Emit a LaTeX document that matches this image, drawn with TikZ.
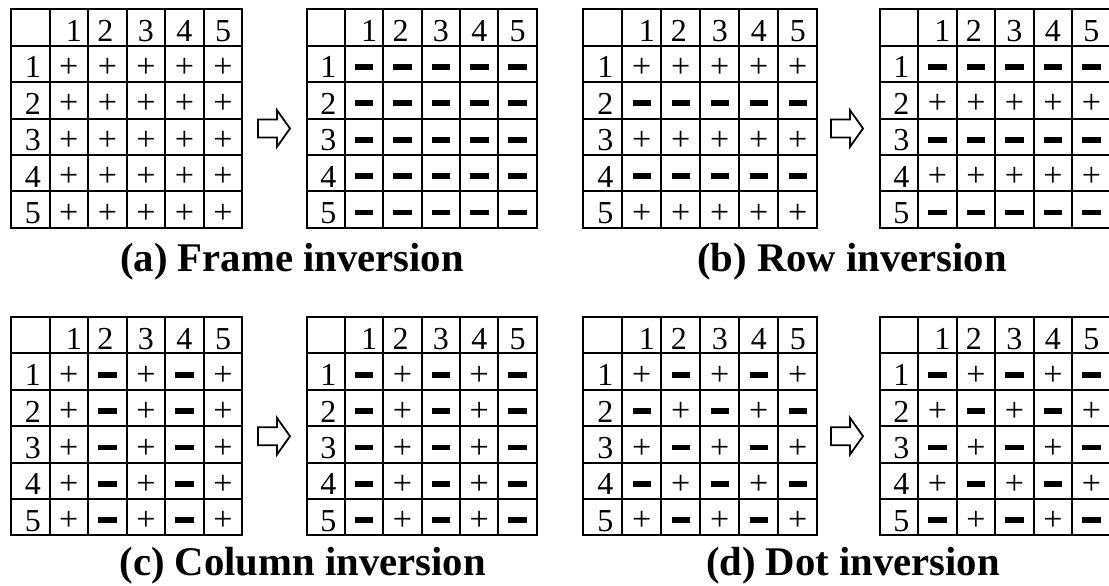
\documentclass[tikz,border=0pt]{standalone}
\usepackage{fontspec}
\setmainfont{Liberation Serif}

% row height of every table
\newcommand\cellH{36.4}

% \signtable{name}{left x}{top y}{column width}{rows of p/m codes}
\newcommand\signtable[5]{%
  \begin{scope}[shift={(#2,#3)}]
    \foreach \k in {1,...,5} {
      \draw[gridline] ({\k*#4},0) -- ({\k*#4},{6*\cellH});
      \draw[gridline] (0,{\k*\cellH}) -- ({6*#4},{\k*\cellH});
    }
    \draw[gridline] (0,0) rectangle ({6*#4},{6*\cellH});
    % column numbers
    \foreach \k/\dx in {1/5,2/-2,3/0,4/0,5/0}
      \node[celldigit] (#1-h\k) at ({(\k+0.5)*#4+\dx},{0.5*\cellH+3.5}) {\k};
    % row numbers and signs
    \foreach \row [count=\r] in {#5} {
      \node[celldigit] (#1-v\r) at ({0.5*#4+2.5},{(\r+0.5)*\cellH+3.5}) {\r};
      \foreach \s [count=\c] in \row {
        \if p\s
          \node[cellplus] (#1-\r-\c) at ({(\c+0.5)*#4},{(\r+0.5)*\cellH+4}) {+};
        \else
          \node[cellminus] (#1-\r-\c) at ({(\c+0.5)*#4},{(\r+0.5)*\cellH+3}) {};
        \fi
      }
    }
  \end{scope}}

% hollow right-pointing block arrow drawn from a named coordinate
\newcommand\blockarrow[3]{%
  \coordinate (#1) at (#2,#3);
  \draw[arrowline] ([shift={(0,-9)}]#1) -- ++(19,0) -- ++(0,-9.3) -- ([shift={(32,0)}]#1)
    -- ([shift={(19,18.3)}]#1) -- ++(0,-9.3) -- ([shift={(0,9)}]#1) -- cycle;}

\begin{document}
\begin{tikzpicture}[x=1pt,y=-1pt,
  gridline/.style={line width=2pt,line cap=rect},
  celldigit/.style={inner sep=0pt,font=\fontsize{32}{32}\selectfont},
  cellplus/.style={inner sep=0pt,font=\fontsize{34}{34}\selectfont},
  cellminus/.style={inner sep=0pt,fill=black,minimum width=18.5pt,minimum height=5.8pt},
  caption/.style={inner sep=0pt,anchor=base,font=\fontsize{40.7}{44}\selectfont\bfseries},
  arrowline/.style={line width=1.8pt,line join=miter}]
\useasboundingbox (0,0) rectangle (1109,586);

% (a) frame inversion
\signtable{aL}{11}{9.3}{38.55}{{p,p,p,p,p},{p,p,p,p,p},{p,p,p,p,p},{p,p,p,p,p},{p,p,p,p,p}}
\blockarrow{arrA}{258}{128.5}
\signtable{aR}{306.7}{9.3}{38.35}{{m,m,m,m,m},{m,m,m,m,m},{m,m,m,m,m},{m,m,m,m,m},{m,m,m,m,m}}
\node[caption] (capA) at (292,271) {(a) Frame inversion};

% (b) row inversion
\signtable{bL}{583.3}{9.3}{39}{{p,p,p,p,p},{m,m,m,m,m},{p,p,p,p,p},{m,m,m,m,m},{p,p,p,p,p}}
\blockarrow{arrB}{831}{128.5}
\signtable{bR}{879.7}{9.3}{38.5}{{m,m,m,m,m},{p,p,p,p,p},{m,m,m,m,m},{p,p,p,p,p},{m,m,m,m,m}}
\node[caption] (capB) at (852,271) {(b) Row inversion};

% (c) column inversion
\signtable{cL}{11}{317}{38.55}{{p,m,p,m,p},{p,m,p,m,p},{p,m,p,m,p},{p,m,p,m,p},{p,m,p,m,p}}
\blockarrow{arrC}{258}{436.2}
\signtable{cR}{306.7}{317}{38.35}{{m,p,m,p,m},{m,p,m,p,m},{m,p,m,p,m},{m,p,m,p,m},{m,p,m,p,m}}
\node[caption] (capC) at (302.7,575) {(c) Column inversion};

% (d) dot inversion
\signtable{dL}{583.3}{317}{39}{{p,m,p,m,p},{m,p,m,p,m},{p,m,p,m,p},{m,p,m,p,m},{p,m,p,m,p}}
\blockarrow{arrD}{831}{436.2}
\signtable{dR}{879.7}{317}{38.5}{{m,p,m,p,m},{p,m,p,m,p},{m,p,m,p,m},{p,m,p,m,p},{m,p,m,p,m}}
\node[caption] (capD) at (853,575) {(d) Dot inversion};
\end{tikzpicture}
\end{document}
